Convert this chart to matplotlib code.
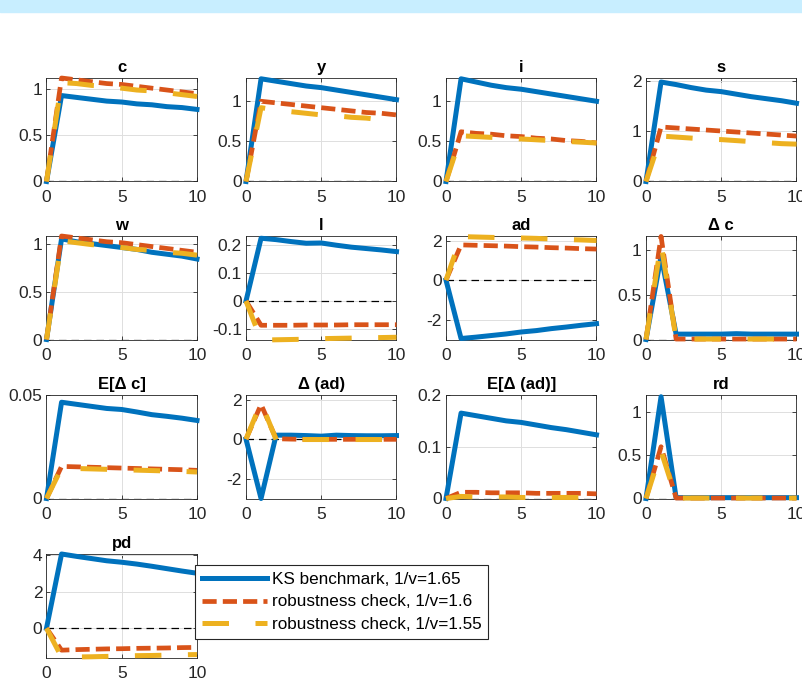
import numpy as np
import matplotlib.pyplot as plt
from matplotlib.patches import Rectangle
from matplotlib.ticker import FormatStrFormatter

plt.rcParams["font.family"] = ["Liberation Sans", "DejaVu Sans"]

# horizon
t = list(range(11))

titles = ["c", "y", "i", "s", "w", "l", "ad", "Δ c",
          "E[Δ c]", "Δ (ad)", "E[Δ (ad)]", "rd", "pd"]

labels = ["KS benchmark, 1/v=1.65",
          "robustness check, 1/v=1.6",
          "robustness check, 1/v=1.55"]

# impulse responses: benchmark, 1/v=1.6, 1/v=1.55
c_ks = [0, 0.93, 0.91, 0.89, 0.87, 0.86, 0.84, 0.83, 0.81, 0.80, 0.78]
c_16 = [0, 1.12, 1.10, 1.08, 1.06, 1.05, 1.03, 1.01, 0.99, 0.97, 0.95]
c_155 = [0, 1.07, 1.06, 1.04, 1.03, 1.01, 0.99, 0.98, 0.96, 0.94, 0.92]

y_ks = [0, 1.28, 1.25, 1.22, 1.19, 1.17, 1.14, 1.11, 1.08, 1.05, 1.02]
y_16 = [0, 1.00, 0.98, 0.96, 0.94, 0.92, 0.90, 0.88, 0.86, 0.85, 0.83]
y_155 = [0, 0.92, 0.89, 0.87, 0.85, 0.83, 0.82, 0.80, 0.79, 0.77, 0.76]

i_ks = [0, 1.28, 1.24, 1.20, 1.17, 1.15, 1.12, 1.09, 1.06, 1.03, 1.00]
i_16 = [0, 0.62, 0.60, 0.59, 0.57, 0.56, 0.54, 0.53, 0.51, 0.50, 0.48]
i_155 = [0, 0.57, 0.56, 0.55, 0.54, 0.53, 0.52, 0.51, 0.50, 0.49, 0.48]

s_ks = [0, 1.97, 1.92, 1.86, 1.81, 1.78, 1.73, 1.68, 1.64, 1.60, 1.55]
s_16 = [0, 1.08, 1.06, 1.04, 1.02, 1.00, 0.98, 0.96, 0.94, 0.92, 0.90]
s_155 = [0, 0.90, 0.88, 0.86, 0.84, 0.83, 0.81, 0.79, 0.77, 0.75, 0.74]

w_ks = [0, 1.05, 1.02, 1.00, 0.98, 0.96, 0.94, 0.91, 0.89, 0.87, 0.84]
w_16 = [0, 1.08, 1.06, 1.04, 1.02, 1.01, 0.99, 0.97, 0.95, 0.93, 0.91]
w_155 = [0, 1.03, 1.01, 0.99, 0.98, 0.96, 0.94, 0.93, 0.91, 0.90, 0.88]

l_ks = [0, 0.225, 0.220, 0.213, 0.207, 0.208, 0.200, 0.193, 0.188, 0.183, 0.177]
l_16 = [0, -0.087, -0.087, -0.087, -0.086, -0.086, -0.086, -0.085, -0.085, -0.085, -0.085]
l_155 = [0, -0.140, -0.139, -0.138, -0.137, -0.135, -0.134, -0.133, -0.132, -0.131, -0.130]

ad_ks = [0, -2.95, -2.88, -2.80, -2.72, -2.62, -2.55, -2.45, -2.37, -2.28, -2.20]
ad_16 = [0, 1.78, 1.76, 1.74, 1.72, 1.69, 1.67, 1.64, 1.62, 1.59, 1.57]
ad_155 = [0, 2.20, 2.18, 2.16, 2.14, 2.13, 2.11, 2.08, 2.05, 2.03, 2.00]

dc_ks = [0, 0.93, 0.06, 0.06, 0.06, 0.06, 0.065, 0.06, 0.06, 0.06, 0.06]
dc_16 = [0, 1.15, 0.005, 0.005, 0.005, 0.005, 0.005, 0.005, 0.005, 0.005, 0.005]
dc_155 = [0, 1.07, 0.005, 0.005, 0.005, 0.005, 0.005, 0.005, 0.005, 0.005, 0.005]

edc_ks = [0, 0.0465, 0.0455, 0.0445, 0.0435, 0.043, 0.0418, 0.0405, 0.0397, 0.0388, 0.0377]
edc_16 = [0, 0.0155, 0.0153, 0.0151, 0.0149, 0.0147, 0.0145, 0.0143, 0.0141, 0.0139, 0.0136]
edc_155 = [0, 0.0147, 0.0145, 0.0143, 0.0141, 0.0139, 0.0137, 0.0135, 0.0133, 0.0131, 0.0128]

dad_ks = [0, -3.0, 0.20, 0.20, 0.18, 0.15, 0.20, 0.18, 0.17, 0.17, 0.18]
dad_16 = [0, 1.75, 0.02, 0.0, -0.01, -0.01, -0.01, -0.01, -0.01, -0.01, -0.01]
dad_155 = [0, 1.85, -0.02, -0.02, -0.02, -0.02, -0.02, -0.02, -0.02, -0.02, -0.02]

ead_ks = [0, 0.165, 0.160, 0.155, 0.150, 0.147, 0.142, 0.137, 0.133, 0.128, 0.123]
ead_16 = [0, 0.012, 0.012, 0.011, 0.011, 0.011, 0.010, 0.010, 0.010, 0.010, 0.009]
ead_155 = [0, 0.004, 0.003, 0.003, 0.003, 0.002, 0.002, 0.002, 0.002, 0.002, 0.002]

rd_ks = [0, 1.18, 0.01, 0.01, 0.01, 0.01, 0.01, 0.01, 0.01, 0.01, 0.01]
rd_16 = [0, 0.60, 0.005, 0.005, 0.005, 0.005, 0.005, 0.005, 0.005, 0.005, 0.005]
rd_155 = [0, 0.55, 0.005, 0.005, 0.005, 0.005, 0.005, 0.005, 0.005, 0.005, 0.005]

pd_ks = [0, 4.05, 3.92, 3.80, 3.68, 3.60, 3.50, 3.38, 3.25, 3.12, 3.00]
pd_16 = [0, -1.20, -1.17, -1.15, -1.13, -1.12, -1.10, -1.09, -1.08, -1.06, -1.05]
pd_155 = [0, -1.58, -1.57, -1.56, -1.54, -1.52, -1.50, -1.49, -1.47, -1.45, -1.44]

ks = [c_ks, y_ks, i_ks, s_ks, w_ks, l_ks, ad_ks, dc_ks, edc_ks, dad_ks, ead_ks, rd_ks, pd_ks]
r16 = [c_16, y_16, i_16, s_16, w_16, l_16, ad_16, dc_16, edc_16, dad_16, ead_16, rd_16, pd_16]
r155 = [c_155, y_155, i_155, s_155, w_155, l_155, ad_155, dc_155, edc_155, dad_155, ead_155, rd_155, pd_155]

ylims = [(0, 1.12), (0, 1.29), (0, 1.29), (0, 2.05), (0, 1.08), (-0.138, 0.233),
         (-3.0, 2.23), (0, 1.155), (0, 0.05), (-3.0, 2.23), (0, 0.2), (0, 1.2), (-1.6, 4.05)]
yticks = [[0, 0.5, 1], [0, 0.5, 1], [0, 0.5, 1], [0, 1, 2], [0, 0.5, 1],
          [-0.1, 0, 0.1, 0.2], [-2, 0, 2], [0, 0.5, 1], [0, 0.05], [-2, 0, 2],
          [0, 0.1, 0.2], [0, 0.5, 1], [0, 2, 4]]

BLUE = "#0072BD"
ORANGE = "#D95319"
YELLOW = "#EDB120"
AXC = "#262626"

W, H = 803, 679
fig = plt.figure(figsize=(W / 100, H / 100), dpi=100)
fig.patches.append(Rectangle((0, 1 - 12 / H), 1, 12 / H, transform=fig.transFigure,
                             color="#C8EEFF", zorder=0))

lefts = [46.5, 246, 446, 646]
tops = [78, 236, 395, 554]
aw, ah = 150.5, 103.5

handles = None
for k, name in enumerate(titles):
    r, col = divmod(k, 4)
    ax = fig.add_axes([lefts[col] / W, 1 - (tops[r] + ah) / H, aw / W, ah / H])
    ax.plot(t, [0] * len(t), color="k", lw=0.9, dashes=(6, 4), zorder=1)
    h1, = ax.plot(t, ks[k], color=BLUE, lw=3.6, zorder=2, clip_on=False)
    h2, = ax.plot(t, r16[k], color=ORANGE, lw=3.4, dashes=(3.0, 1.3), zorder=3, clip_on=False)
    h3, = ax.plot(t, r155[k], color=YELLOW, lw=3.6, dashes=(5.3, 5.3), zorder=4, clip_on=False)
    handles = [h1, h2, h3]
    ax.set_xlim(0, 10)
    ax.set_ylim(*ylims[k])
    ax.set_xticks([0, 5, 10])
    ax.set_yticks(yticks[k])
    ax.yaxis.set_major_formatter(FormatStrFormatter("%g"))
    ax.grid(True, color="#DEDEDE", lw=0.7)
    ax.set_axisbelow(True)
    ax.tick_params(direction="in", length=3, width=0.6, colors=AXC, labelsize=12.5,
                   top=True, right=True, pad=3)
    ax.tick_params(axis="x", pad=6)
    for sp in ax.spines.values():
        sp.set_color(AXC)
        sp.set_linewidth(0.6)
        sp.set_zorder(1.5)
    ax.set_title(name, fontsize=12, fontweight="bold", pad=4)

leg = fig.legend(handles, labels, loc="lower left",
                 bbox_to_anchor=(195 / W, 1 - 639 / H), bbox_transform=fig.transFigure,
                 fontsize=12.3, handlelength=3.8, handletextpad=0.3, labelspacing=0.45,
                 borderaxespad=0, borderpad=0.4, fancybox=False, framealpha=1,
                 edgecolor=AXC)
leg.get_frame().set_linewidth(0.8)

fig.savefig("out.png", dpi=100)
